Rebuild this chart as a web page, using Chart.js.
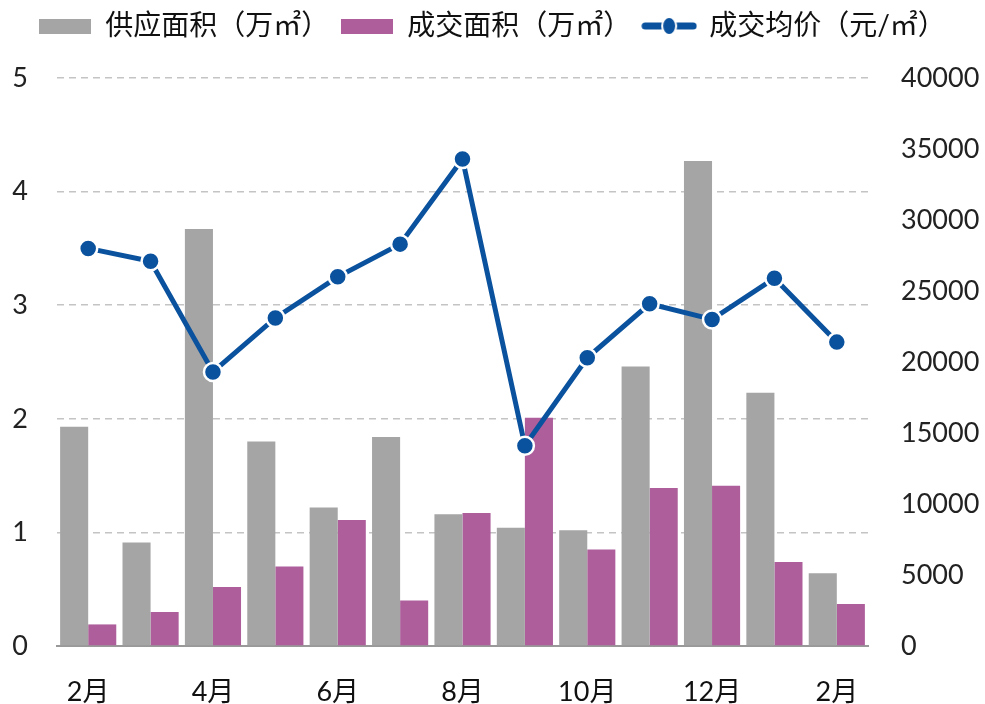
<!DOCTYPE html>
<html><head><meta charset="utf-8">
<script src="https://cdn.jsdelivr.net/npm/chart.js@4/dist/chart.umd.min.js"></script>
<style>html,body{margin:0;padding:0;background:#fff}#wrap{width:985px;height:704px}</style>
</head><body><div id="wrap"><canvas id="c" width="985" height="704"></canvas></div>
<script>
const categories = ['2月','3月','4月','5月','6月','7月','8月','9月','10月','11月','12月','1月','2月'];
const supplyArea = [1.93,0.91,3.67,1.80,1.22,1.84,1.16,1.04,1.02,2.46,4.27,2.23,0.64];
const dealArea = [0.19,0.30,0.52,0.70,1.11,0.40,1.17,2.01,0.85,1.39,1.41,0.74,0.37];
const avgPrice = [28000,27100,19300,23100,26000,28300,34300,14100,20300,24100,23000,25900,21400];
const seriesNames = ['供应面积（万㎡）','成交面积（万㎡）','成交均价（元/㎡）'];
const leftTicks = [0,5,1];
const rightTicks = [0,40000,5000];

const GRAY='#A5A5A5', PURPLE='#AD5E9B', BLUE='#0B529E';
function boxImg(color){const c=document.createElement('canvas');c.width=52;c.height=15;const g=c.getContext('2d');g.fillStyle=color;g.fillRect(0,0,52,15);return c;}
function lineImg(){const c=document.createElement('canvas');c.width=56;c.height=22;const g=c.getContext('2d');g.strokeStyle=BLUE;g.lineWidth=7;g.lineCap='round';g.beginPath();g.moveTo(4,11);g.lineTo(52,11);g.stroke();g.fillStyle=BLUE;g.strokeStyle='#fff';g.lineWidth=2;g.beginPath();g.ellipse(28,11,7,9,0,0,Math.PI*2);g.fill();g.stroke();return c;}
const imgs=[boxImg(GRAY),boxImg(PURPLE),lineImg()];
const FONT = "Lato, 'Noto Sans CJK SC', sans-serif";

const legendMargin={id:'legendMargin',beforeInit(chart){const f=chart.legend.fit;chart.legend.fit=function(){f.bind(chart.legend)();this.height=78;};}};

new Chart(document.getElementById('c'),{
  data:{labels:categories,datasets:[
    {type:'line',label:seriesNames[2],data:avgPrice,yAxisID:'y1',borderColor:BLUE,backgroundColor:BLUE,borderWidth:5,pointRadius:9,pointBorderColor:'#fff',pointBorderWidth:2.5,pointBackgroundColor:BLUE,order:0},
    {type:'bar',label:seriesNames[0],data:supplyArea,yAxisID:'y',backgroundColor:GRAY,categoryPercentage:0.9,barPercentage:1,order:1},
    {type:'bar',label:seriesNames[1],data:dealArea,yAxisID:'y',backgroundColor:PURPLE,categoryPercentage:0.9,barPercentage:1,order:2}
  ]},
  plugins:[legendMargin],
  options:{responsive:false,animation:false,
    layout:{padding:{left:0,right:0,top:0,bottom:0}},
    plugins:{tooltip:{enabled:false},
      legend:{position:'top',align:'center',
        labels:{usePointStyle:true,pointStyleWidth:52,boxHeight:15,padding:12,color:'#111',font:{family:FONT,size:28},
          sort:(a,b)=>[1,2,0].indexOf(a.datasetIndex)-[1,2,0].indexOf(b.datasetIndex),
          generateLabels:(chart)=>{
            return chart.data.datasets.map((d,i)=>({text:d.label,datasetIndex:i,pointStyle:i===0?imgs[2]:(i===1?imgs[0]:imgs[1]),fillStyle:'transparent',strokeStyle:'transparent',lineWidth:0,hidden:false,fontColor:'#111'}));
          }}}},
    scales:{
      x:{grid:{display:false},border:{color:'#999',width:2},afterFit:s=>{s.height=58;},
        ticks:{autoSkip:false,maxRotation:0,color:'#111',font:{family:FONT,size:27},padding:22,
          callback:function(v,i){return i%2===0?this.getLabelForValue(v):'';}}},
      y:{position:'left',min:leftTicks[0],max:leftTicks[1],afterFit:s=>{s.width=57;},ticks:{stepSize:leftTicks[2],color:'#222',font:{family:FONT,size:27},padding:29},
        grid:{color:'#C4C4C4',lineWidth:1.5,drawTicks:false},border:{display:false,dash:[7,5]}},
      y1:{position:'right',min:rightTicks[0],max:rightTicks[1],afterFit:s=>{s.width=117;},ticks:{stepSize:rightTicks[2],color:'#222',font:{family:FONT,size:27},padding:25,callback:v=>String(v)},
        grid:{display:false},border:{display:false}}
    }
  }
});
</script></body></html>
